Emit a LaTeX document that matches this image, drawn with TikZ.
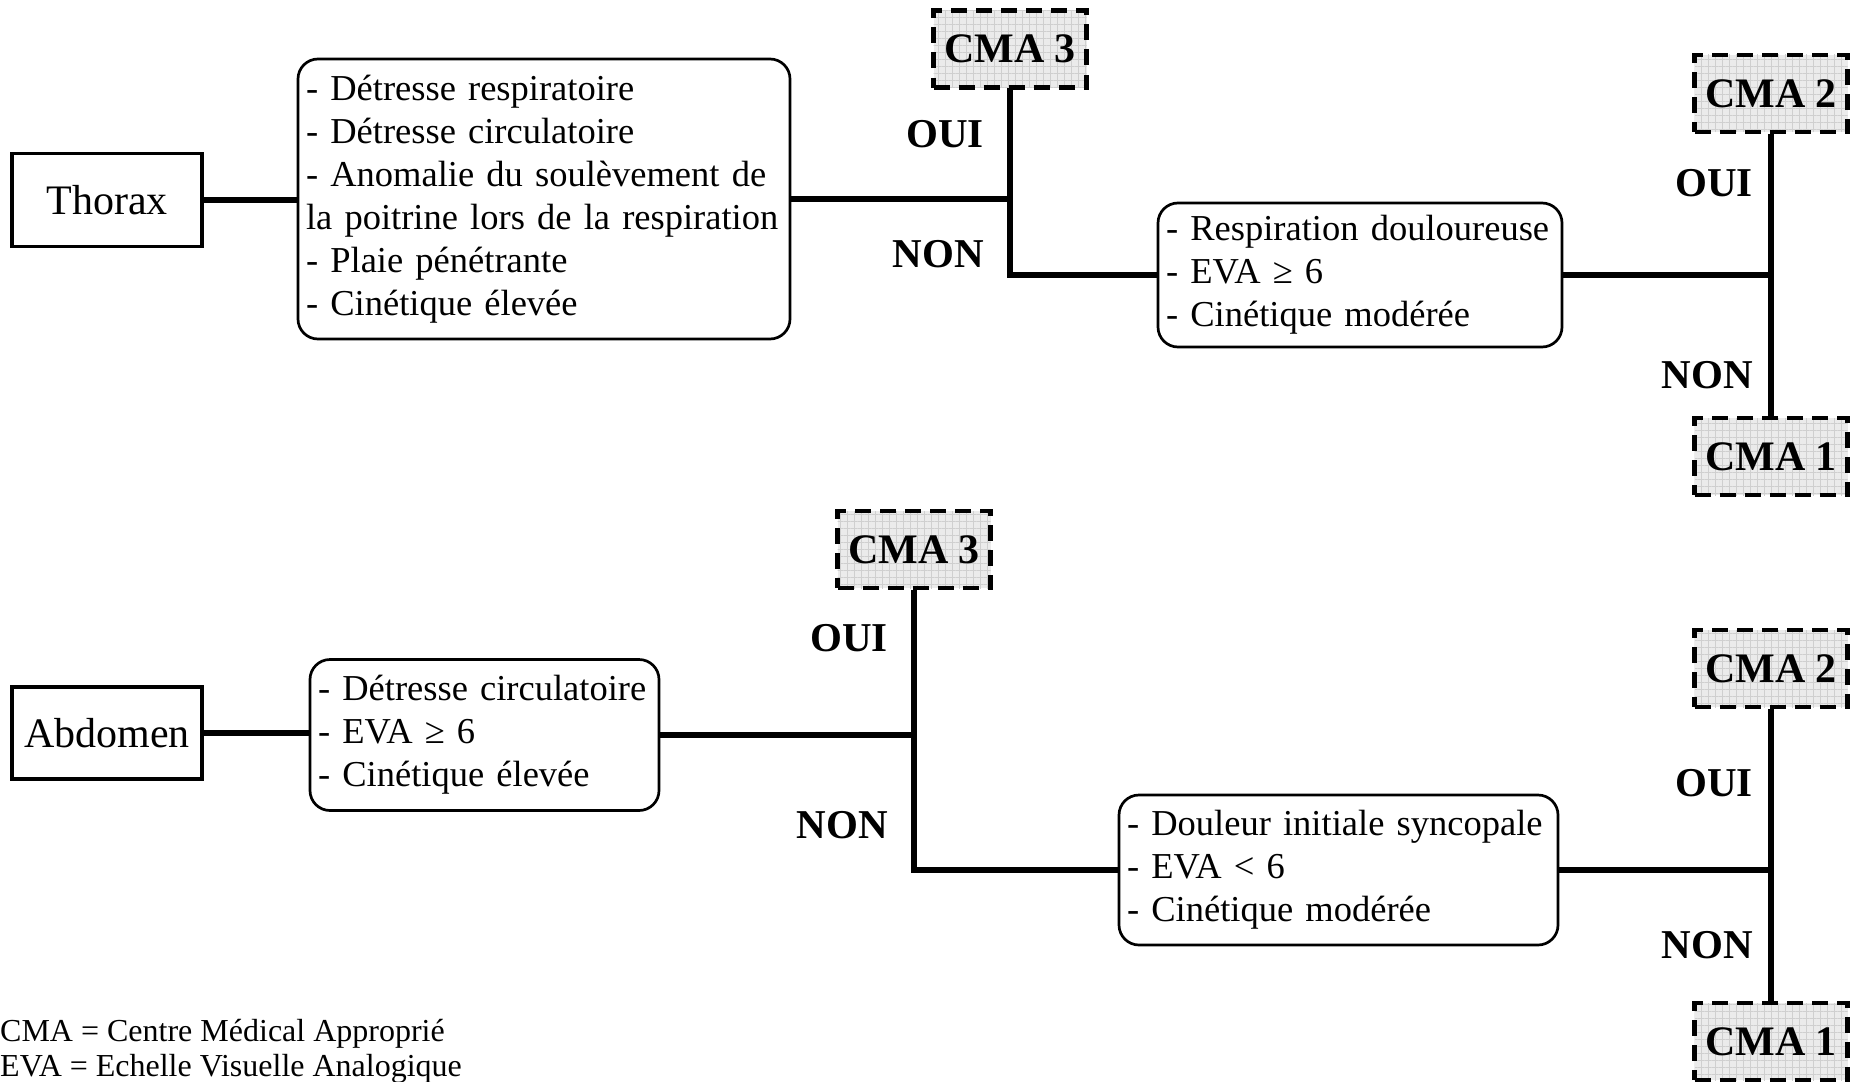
\documentclass[tikz,border=0pt]{standalone}
\usepackage{fontspec}
\setmainfont{Liberation Serif}
\usepackage{tikz}
\usetikzlibrary{patterns.meta, positioning}

\begin{document}
\begin{tikzpicture}[x=1pt, y=-1pt,
        region/.style={draw, line width=3.5pt, minimum width=190pt, minimum height=93pt, font=\fontsize{42}{48}\selectfont},
        crit/.style={draw, line width=2.7pt, rounded corners=20pt, align=left, inner xsep=8pt, inner ysep=0pt, font=\fontsize{36.5}{43}\selectfont},
        cma/.style={draw, line width=4.5pt, dash pattern=on 16pt off 9pt, preaction={fill=gray!16}, pattern={Hatch[angle=0, distance=7pt, line width=0.6pt]}, pattern color=gray!38, minimum width=153pt, minimum height=77pt, inner sep=0pt, font=\fontsize{42}{48}\selectfont\bfseries},
        answer/.style={anchor=east, inner sep=0pt, font=\fontsize{41}{48}\selectfont\bfseries},
        conn/.style={line width=5.5pt}]
            \useasboundingbox (0, 0) rectangle (1854, 1081);

            % thorax
            \node[region] at (107, 200)   (thorax) {Thorax};
            \node[crit, text width=476pt, minimum height=280pt] at (544, 199)   (thcrit) {- Détresse respiratoire\\- Détresse circulatoire\\- Anomalie du soulèvement de\\la poitrine lors de la respiration\\- Plaie pénétrante\\- Cinétique élevée};
            \node[cma] at (1010, 49)   (cma3a) {CMA 3};
            \node[crit, text width=388pt, minimum height=144pt] at (1360, 275)   (resp) {- Respiration douloureuse\\- EVA ≥ 6\\- Cinétique modérée};
            \node[cma] at (1771, 93.5)   (cma2a) {CMA 2};
            \node[cma] at (1771, 456.5)   (cma1a) {CMA 1};
            \node[answer] at (984, 134)   (ouia) {OUI};
            \node[answer] at (984, 254)   (nona) {NON};
            \node[answer] at (1753, 183)   (ouib) {OUI};
            \node[answer] at (1753, 375)   (nonb) {NON};

            \draw [conn] (thorax.east) -- (thorax.east -| thcrit.west);
            \draw [conn] (thcrit.east) -- (thcrit.east -| cma3a.south);
            \draw [conn] (cma3a.south) |- (resp.west);
            \draw [conn] (resp.east) -- (resp.east -| cma2a.south);
            \draw [conn] (cma2a.south) -- (cma1a.north);

            % abdomen
            \node[region, minimum height=92pt] at (107, 733)   (abdomen) {Abdomen};
            \node[crit, text width=333pt, minimum height=151pt] at (484.5, 735)   (abcrit) {- Détresse circulatoire\\- EVA ≥ 6\\- Cinétique élevée};
            \node[cma] at (914, 549.5)   (cma3b) {CMA 3};
            \node[crit, text width=423pt, minimum height=150pt] at (1338.5, 870)   (douleur) {- Douleur initiale syncopale\\- EVA < 6\\- Cinétique modérée};
            \node[cma] at (1771, 668.5)   (cma2b) {CMA 2};
            \node[cma] at (1771, 1041.5)   (cma1b) {CMA 1};
            \node[answer] at (888, 638)   (ouic) {OUI};
            \node[answer] at (888, 825)   (nonc) {NON};
            \node[answer] at (1753, 783)   (ouid) {OUI};
            \node[answer] at (1753, 945)   (nond) {NON};

            \draw [conn] (abdomen.east) -- (abdomen.east -| abcrit.west);
            \draw [conn] (abcrit.east) -- (abcrit.east -| cma3b.south);
            \draw [conn] (cma3b.south) |- (douleur.west);
            \draw [conn] (douleur.east) -- (douleur.east -| cma2b.south);
            \draw [conn] (cma2b.south) -- (cma1b.north);

            % legend
            \node[anchor=west, inner sep=0pt, font=\fontsize{32}{38}\selectfont] at (0, 1034)   (legcma) {CMA = Centre Médical Approprié};
            \node[anchor=west, inner sep=0pt, font=\fontsize{32}{38}\selectfont] at (0, 1069)   (legeva) {EVA = Echelle Visuelle Analogique};
        \end{tikzpicture}
\end{document}
